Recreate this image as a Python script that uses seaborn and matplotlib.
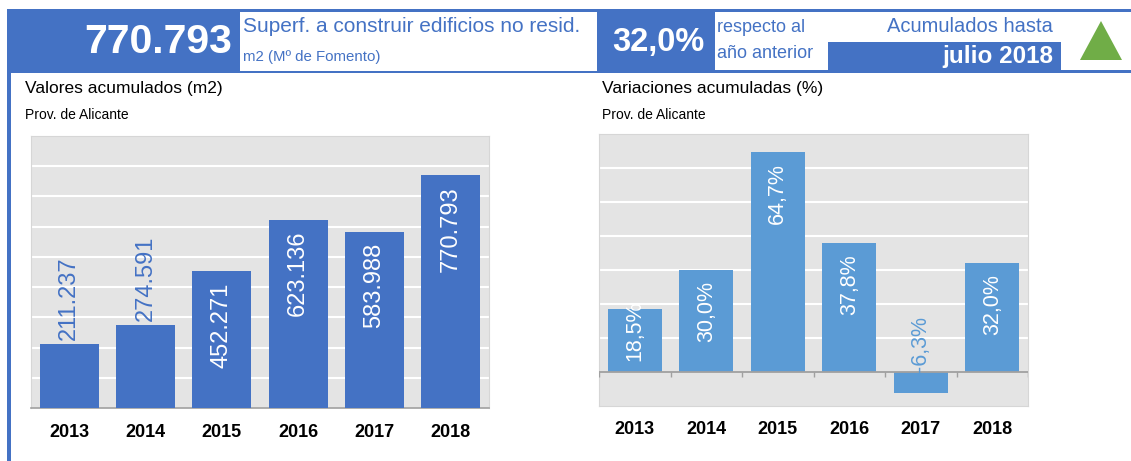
import matplotlib

matplotlib.use("Agg")

import matplotlib.pyplot as plt
import numpy as np
import pandas as pd
import seaborn as sns
from matplotlib.patches import Polygon, Rectangle


YEARS = ["2013", "2014", "2015", "2016", "2017", "2018"]
ACUMULADOS_M2 = [211237, 274591, 452271, 623136, 583988, 770793]
VARIACIONES_PCT = [18.5, 30.0, 64.7, 37.8, -6.3, 32.0]

HEADER_VALUE = "770.793"
HEADER_TITLE = "Superf. a construir edificios no resid."
HEADER_UNITS = "m2 (Mº de Fomento)"
HEADER_PCT = "32,0%"
HEADER_PCT_TEXT = ["respecto al", "año anterior"]
HEADER_PERIOD_TITLE = "Acumulados hasta"
HEADER_PERIOD = "julio 2018"
PROVINCE = "Prov. de Alicante"

BLUE = "#4472c4"
LIGHT_BLUE = "#5b9bd5"
GREEN = "#70ad47"
PLOT_BG = "#e4e4e4"
AXIS_GREY = "#a0a0a0"

W, H = 1131, 461


def fig_rect(x0, y0, x1, y1):
    return [x0 / W, 1 - y1 / H, (x1 - x0) / W, (y1 - y0) / H]


def fmt_thousands(value):
    return f"{value:,}".replace(",", ".")


def fmt_pct(value):
    return f"{value:.1f}%".replace(".", ",")


def style_chart(ax, ylim, grid_ticks):
    ax.set_facecolor(PLOT_BG)
    ax.set_ylim(*ylim)
    ax.set_xlim(-0.5, len(YEARS) - 0.5)
    ax.set_yticks(grid_ticks)
    ax.set_yticklabels([])
    ax.grid(axis="y", color="white", linewidth=1.5)
    ax.grid(axis="x", visible=False)
    ax.set_axisbelow(True)
    ax.set_xlabel("")
    ax.set_ylabel("")
    for spine in ax.spines.values():
        spine.set_visible(True)
        spine.set_color("#d6d6d6")
        spine.set_linewidth(0.8)
    ax.tick_params(axis="y", length=0)
    ax.tick_params(axis="x", which="major", length=0, labelsize=13)
    for label in ax.get_xticklabels():
        label.set_fontweight("bold")
        label.set_color("black")


def draw_acumulados(ax):
    df = pd.DataFrame({"year": YEARS, "value": ACUMULADOS_M2})
    sns.barplot(data=df, x="year", y="value", color=BLUE, saturation=1,
                width=0.77, linewidth=0, ax=ax, zorder=3)
    ymax = 900000
    style_chart(ax, (0, ymax), np.arange(100000, ymax, 100000))
    ax.tick_params(axis="x", which="major", pad=11.5)
    ax.set_xticks(np.arange(-0.5, len(YEARS), 1), minor=True)
    ax.tick_params(axis="x", which="minor", length=5, width=1, color=AXIS_GREY,
                   direction="out")
    ax.spines["bottom"].set_color(AXIS_GREY)
    ax.spines["bottom"].set_linewidth(1.2)
    for i, value in enumerate(ACUMULADOS_M2):
        if value >= 0.4 * ymax:
            color, va, offset = "white", "top", -8
        else:
            color, va, offset = BLUE, "bottom", 3
        ax.annotate(fmt_thousands(value), (i, value), xytext=(0, offset),
                    textcoords="offset points", rotation=90, ha="center", va=va,
                    color=color, fontsize=17, zorder=5)


def draw_variaciones(ax):
    df = pd.DataFrame({"year": YEARS, "value": VARIACIONES_PCT})
    sns.barplot(data=df, x="year", y="value", color=LIGHT_BLUE, saturation=1,
                width=0.755, linewidth=0, ax=ax, zorder=3)
    style_chart(ax, (-10, 70), np.arange(10, 70, 10))
    ax.tick_params(axis="x", which="major", pad=10.5)
    ax.axhline(0, color=AXIS_GREY, linewidth=1.3, zorder=4)
    ax.vlines(np.arange(-0.5, len(YEARS), 1), 0, -1.5, color=AXIS_GREY,
              linewidth=1, zorder=4)
    for i, value in enumerate(VARIACIONES_PCT):
        if value < 0:
            anchor, color, va, offset = 0, LIGHT_BLUE, "bottom", 0
        elif value >= 25:
            anchor, color, va, offset = value, "white", "top", -8
        else:
            anchor, color, va, offset = value, "white", "top", 6
        ax.annotate(fmt_pct(value), (i, anchor), xytext=(0, offset),
                    textcoords="offset points", rotation=90, ha="center", va=va,
                    color=color, fontsize=15.5, zorder=5)


def draw_header(frame):
    frame.add_patch(Rectangle((7, 9.5), W - 7, 63.5, color=BLUE, lw=0))
    frame.add_patch(Rectangle((7, 9.5), 3.5, H, color=BLUE, lw=0))
    frame.add_patch(Rectangle((240, 12), 357, 59, color="white", lw=0))
    frame.add_patch(Rectangle((715, 12), W - 715, 58.5, color="white", lw=0))
    frame.add_patch(Rectangle((828, 42), 233, 31, color=BLUE, lw=0))
    frame.add_patch(Polygon([(1080, 60), (1101, 21), (1122, 60)], closed=True,
                            color=GREEN, lw=0))

    frame.text(232, 42, HEADER_VALUE, color="white", fontsize=29.5,
               fontweight="bold", ha="right", va="center")
    frame.text(243, 26, HEADER_TITLE, color=BLUE, fontsize=15, ha="left",
               va="center")
    frame.text(243, 57, HEADER_UNITS, color=BLUE, fontsize=10.8, ha="left",
               va="center")
    frame.text(658, 42, HEADER_PCT, color="white", fontsize=23.5,
               fontweight="bold", ha="center", va="center")
    frame.text(717, 27, HEADER_PCT_TEXT[0], color=BLUE, fontsize=13, ha="left",
               va="center")
    frame.text(717, 53, HEADER_PCT_TEXT[1], color=BLUE, fontsize=13, ha="left",
               va="center")
    frame.text(1053, 27, HEADER_PERIOD_TITLE, color=BLUE, fontsize=14.5,
               ha="right", va="center")
    frame.text(1053, 56, HEADER_PERIOD, color="white", fontsize=17.5,
               fontweight="bold", ha="right", va="center")

    frame.text(25, 88, "Valores acumulados (m2)", color="black", fontsize=12.5,
               ha="left", va="center")
    frame.text(25, 115, PROVINCE, color="black", fontsize=10, ha="left",
               va="center")
    frame.text(602, 88, "Variaciones acumuladas (%)", color="black",
               fontsize=12.5, ha="left", va="center")
    frame.text(602, 115, PROVINCE, color="black", fontsize=10, ha="left",
               va="center")


def main():
    sns.set_style("white")
    plt.rcParams["font.family"] = ["Liberation Sans", "DejaVu Sans"]

    fig = plt.figure(figsize=(W / 100, H / 100), dpi=100)
    fig.patch.set_facecolor("white")

    frame = fig.add_axes([0, 0, 1, 1])
    frame.set_xlim(0, W)
    frame.set_ylim(H, 0)
    frame.axis("off")
    frame.patch.set_alpha(0)
    draw_header(frame)

    ax_left = fig.add_axes(fig_rect(31, 136, 489, 408))
    draw_acumulados(ax_left)

    ax_right = fig.add_axes(fig_rect(599, 134, 1028, 406))
    draw_variaciones(ax_right)

    fig.savefig("out.png", dpi=100)
    plt.close(fig)


if __name__ == "__main__":
    main()
